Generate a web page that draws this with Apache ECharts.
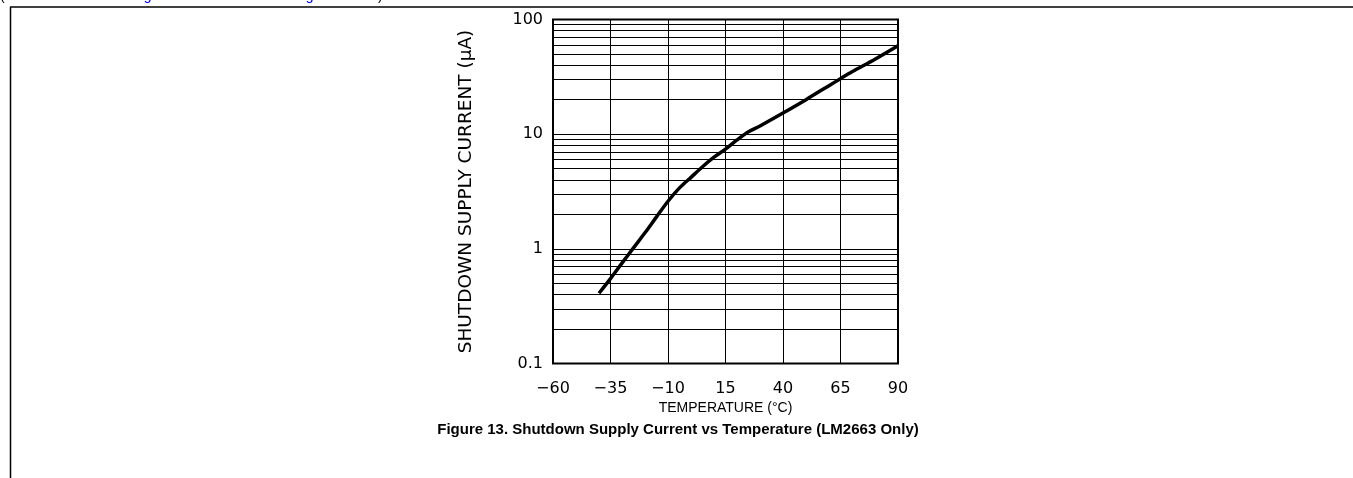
<!DOCTYPE html>
<html>
<head>
<meta charset="utf-8">
<script src="https://cdn.jsdelivr.net/npm/echarts@6/dist/echarts.min.js"></script>
<style>
html,body{margin:0;padding:0;background:#fff;}
#chart{width:1353px;height:478px;}
</style>
</head>
<body>
<div id="chart"></div>
<script>
// ---- data ----
const temperatures = [-40, -35, -30, -25, -20, -15, -10, -5, 0, 5, 10, 15, 20, 25, 30, 40, 50, 60, 65, 70, 80, 90];
const shutdownCurrent = [0.41, 0.55, 0.75, 1.02, 1.38, 1.9, 2.6, 3.4, 4.2, 5.2, 6.3, 7.4, 8.9, 10.5, 11.8, 15.3, 20, 26.5, 30.5, 35, 45, 59];
const xTicks = [-60, -35, -10, 15, 40, 65, 90];
const yTicks = [0.1, 1, 10, 100];
const xTitle = 'TEMPERATURE (°C)';
const yTitle = 'SHUTDOWN SUPPLY CURRENT (μA)';
const caption = 'Figure 13. Shutdown Supply Current vs Temperature (LM2663 Only)';

const chart = echarts.init(document.getElementById('chart'), null, {renderer: 'canvas'});
const tickFont = 'DejaVu Sans';
const topFont = '14px Liberation Sans';
const option = {
  animation: false,
  backgroundColor: '#fff',
  grid: {left: 553, top: 19.5, width: 345, height: 344, show: true, borderColor: '#000', borderWidth: 2, containLabel: false},
  xAxis: {
    type: 'value', min: xTicks[0], max: xTicks[xTicks.length - 1], interval: 25,
    axisLine: {show: false}, axisTick: {show: false},
    axisLabel: {color: '#000', fontFamily: tickFont, fontSize: 16, margin: 17, formatter: v => String(v).replace('-', '\u2212')},
    splitLine: {show: true, lineStyle: {color: '#000', width: 1}},
    name: xTitle, nameLocation: 'middle', nameGap: 38,
    nameTextStyle: {color: '#000', fontFamily: 'Liberation Sans', fontSize: 14}
  },
  yAxis: {
    type: 'log', logBase: 10, min: yTicks[0], max: yTicks[yTicks.length - 1],
    axisLine: {show: false}, axisTick: {show: false},
    axisLabel: {color: '#000', fontFamily: tickFont, fontSize: 16, margin: 10, formatter: v => String(v)},
    splitLine: {show: true, lineStyle: {color: '#000', width: 1}},
    minorTick: {show: false, splitNumber: 9},
    minorSplitLine: {show: true, lineStyle: {color: '#000', width: 1}},
    name: yTitle, nameLocation: 'middle', nameGap: 77, nameRotate: 90,
    nameTextStyle: {color: '#000', fontFamily: tickFont, fontSize: 18.5}
  },
  series: [{
    type: 'line',
    data: temperatures.map((t, i) => [t, shutdownCurrent[i]]),
    showSymbol: false, smooth: 0.3,
    lineStyle: {color: '#000', width: 3.5},
    z: 5
  }],
  graphic: [
    {type: 'line', shape: {x1: 10, y1: 7, x2: 1353, y2: 7}, style: {stroke: '#000', lineWidth: 1.5}},
    {type: 'line', shape: {x1: 10.5, y1: 7, x2: 10.5, y2: 478}, style: {stroke: '#000', lineWidth: 1.5}},
    {type: 'text', x: 0, y: 3, style: {text: '(Test circuit shown in', fill: '#000', font: topFont, verticalAlign: 'bottom'}},
    {type: 'text', x: 132, y: 3, style: {text: 'Figure 12', fill: '#0000ee', font: topFont, verticalAlign: 'bottom'}},
    {type: 'text', x: 200, y: 3, style: {text: 'and', fill: '#000', font: topFont, verticalAlign: 'bottom'}},
    {type: 'text', x: 294, y: 3, style: {text: 'Figure 13', fill: '#0000ee', font: topFont, verticalAlign: 'bottom'}},
    {type: 'text', x: 378, y: 3, style: {text: ')', fill: '#000', font: topFont, verticalAlign: 'bottom'}},
    {type: 'text', x: 678, y: 430, style: {text: caption, fill: '#000', font: 'bold 15px Liberation Sans', align: 'center', verticalAlign: 'middle'}}
  ]
};
chart.setOption(option);
</script>
</body>
</html>
